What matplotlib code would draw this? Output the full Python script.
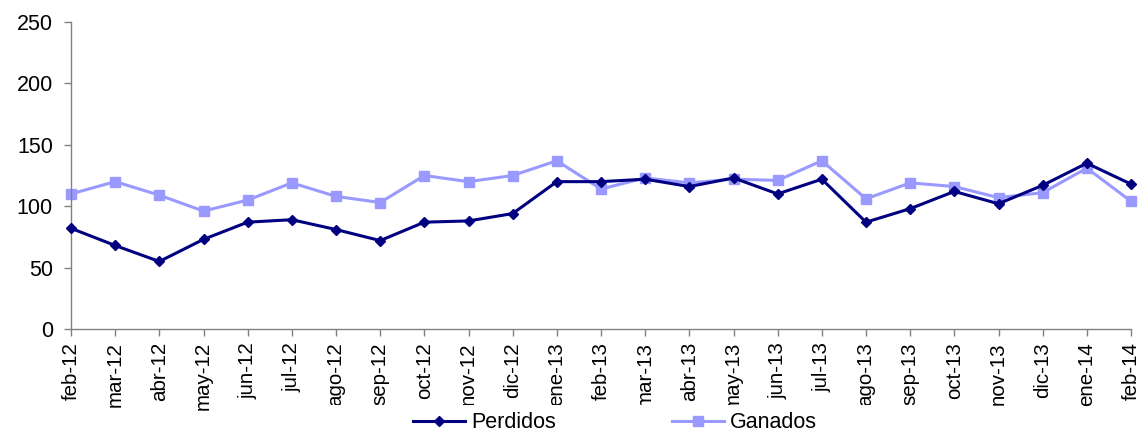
import matplotlib
matplotlib.use("Agg")
import matplotlib.pyplot as plt
from matplotlib.patches import Rectangle

plt.rcParams['font.family'] = ['Liberation Sans', 'DejaVu Sans']

months = ["feb-12", "mar-12", "abr-12", "may-12", "jun-12", "jul-12", "ago-12", "sep-12",
          "oct-12", "nov-12", "dic-12", "ene-13", "feb-13", "mar-13", "abr-13", "may-13",
          "jun-13", "jul-13", "ago-13", "sep-13", "oct-13", "nov-13", "dic-13", "ene-14", "feb-14"]
perdidos = [82, 68, 55, 73, 87, 89, 81, 72, 87, 88, 94, 120, 120, 122, 116, 123,
            110, 122, 87, 98, 112, 102, 117, 135, 118]
ganados = [110, 120, 109, 96, 105, 119, 108, 103, 125, 120, 125, 137, 114, 123, 119, 122,
           121, 137, 106, 119, 116, 107, 111, 131, 104]
y_ticks = [0, 50, 100, 150, 200, 250]

W, H = 1142, 434
fig = plt.figure(figsize=(W / 100, H / 100), dpi=100)
ax = fig.add_axes([71 / W, 1 - 329 / H, (1131 - 71) / W, (329 - 22) / H])

x = list(range(len(months)))
l1, = ax.plot(x, perdidos, color="#000080", lw=2.2, marker="D", markersize=5,
              label="Perdidos", clip_on=False, zorder=3)
l2, = ax.plot(x, ganados, color="#9999FF", lw=2.2, marker="s", markersize=6.5,
              label="Ganados", clip_on=False, zorder=2)

ax.set_xlim(0, len(months) - 1)
ax.set_ylim(0, 250)
ax.set_yticks(y_ticks)
ax.set_xticks(x)
ax.set_xticklabels(months, rotation=90, fontsize=14.8)
ax.tick_params(axis="y", labelsize=15.5, length=5, width=1, color="#808080", pad=8)
ax.tick_params(axis="x", length=5, width=1, color="#808080", pad=4.5)
for s in ["top", "right"]:
    ax.spines[s].set_visible(False)
for s in ["left", "bottom"]:
    ax.spines[s].set_color("#808080")
    ax.spines[s].set_linewidth(1)

# white legend area covering the bottom of long tick labels
fig.patches.append(Rectangle((290 / W, 0), (960 - 290) / W, (H - 405) / H,
                             transform=fig.transFigure, facecolor="white",
                             edgecolor="none", zorder=5))

leg = fig.legend(handles=[l1, l2], loc="center", bbox_to_anchor=(615 / W, 1 - 423 / H),
                 ncol=2, frameon=False, fontsize=15.5, handlelength=2.4,
                 columnspacing=5.4, handletextpad=0.3, borderaxespad=0)
leg.set_zorder(6)

fig.savefig("out.png", dpi=100)
